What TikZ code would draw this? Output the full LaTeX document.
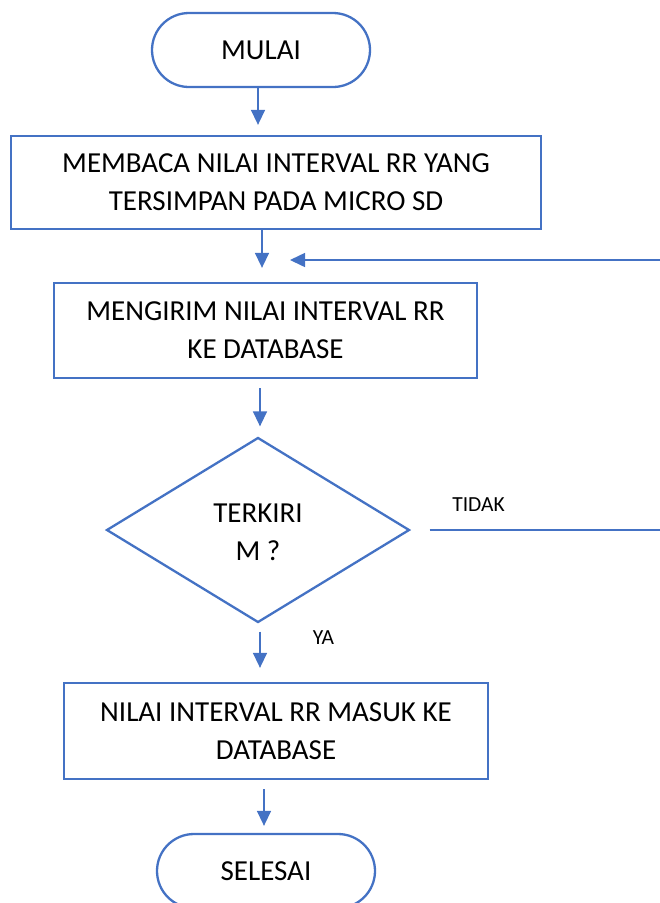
\documentclass[tikz,border=0pt]{standalone}
\usepackage{fontspec}
\setmainfont{Carlito}
\usetikzlibrary{shapes.geometric,arrows.meta}
\definecolor{ofblue}{HTML}{4472C4}
\begin{document}
\begin{tikzpicture}[x=1pt,y=-1pt,
  shapeline/.style={draw=ofblue, line width=2.3pt},
  term/.style={shapeline, rectangle, rounded corners=37pt, minimum width=218pt, minimum height=74pt, inner sep=0pt},
  procbox/.style={shapeline, rectangle, inner sep=0pt},
  bigtext/.style={font=\fontsize{29}{38}\selectfont, align=center},
  smalltext/.style={font=\fontsize{21.5}{26}\selectfont},
  arr/.style={draw=ofblue, line width=1.5pt, -{Triangle[width=14pt,length=15pt]}},
]
\useasboundingbox (0,0) rectangle (660,903);
\clip (0,0) rectangle (660,903);

\node[term, bigtext] (start) at (261,50) {MULAI};
\node[procbox, bigtext, minimum width=530pt, minimum height=93pt] (read) at (276,182.5) {MEMBACA NILAI INTERVAL RR YANG\\TERSIMPAN PADA MICRO SD};
\node[procbox, bigtext, minimum width=423pt, minimum height=95pt] (send) at (265.5,330.5) {MENGIRIM NILAI INTERVAL RR\\KE DATABASE};
\node[shapeline, diamond, minimum width=303pt, minimum height=185pt, inner sep=0pt] (dec) at (258,530) {};
\node[bigtext] (dectext) at (258,532) {TERKIRI\\M ?};
\node[procbox, bigtext, minimum width=424pt, minimum height=96pt] (save) at (276,731) {NILAI INTERVAL RR MASUK KE\\DATABASE};
\node[term, bigtext] (stop) at (266,871) {SELESAI};
\node[smalltext] (tidak) at (478.5,505) {TIDAK};
\node[smalltext] (ya) at (323.5,638) {YA};

\draw[arr, shorten >=10pt] ([xshift=-3pt]start.south) -- ([xshift=-3pt]start.south |- read.north);
\draw[arr, shorten >=14pt] ([xshift=-14pt]read.south) -- ([xshift=-14pt]read.south |- send.north);
\draw[arr, shorten <=9pt, shorten >=10pt] ([xshift=-5.5pt]send.south) -- ([xshift=-5.5pt]send.south |- dec.north);
\draw[arr, shorten <=8pt, shorten >=14pt] ([xshift=2pt]dec.south) -- ([xshift=2pt]dec.south |- save.north);
\draw[arr, shorten <=9pt, shorten >=7pt] ([xshift=-12pt]save.south) -- ([xshift=-12pt]save.south |- stop.north);

\coordinate (loopend) at (290,260);
\draw[arr, shorten <=19pt] (dec.east) -- (690,530) |- (loopend);
\end{tikzpicture}
\end{document}
